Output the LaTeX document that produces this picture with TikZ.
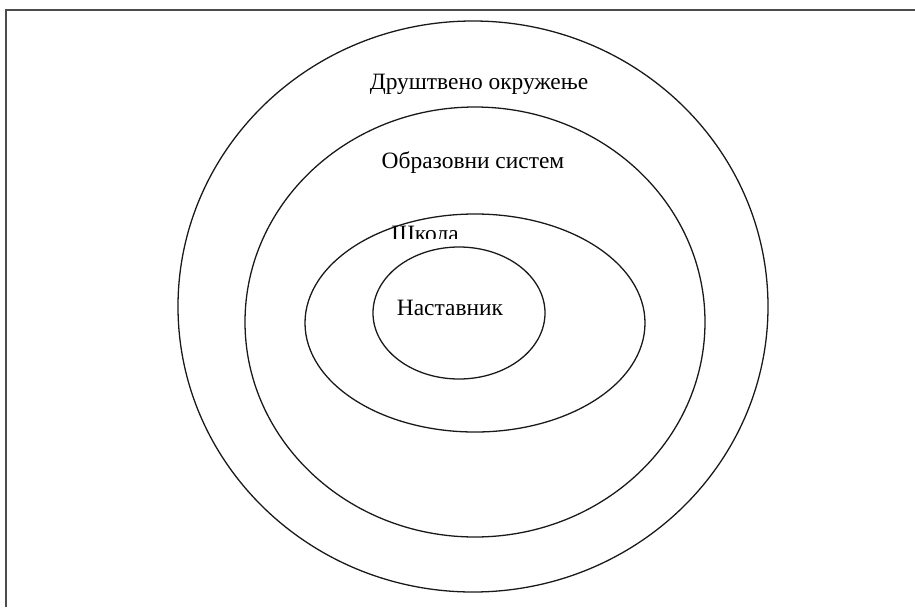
\documentclass[tikz,border=0pt]{standalone}
\usepackage{fontspec}
\setmainfont{Liberation Serif}
\usetikzlibrary{positioning}

\begin{document}
\begin{tikzpicture}[
    x=0.03cm, y=-0.03cm,
    ring/.style={line width=1.1pt, draw=black!90},
    frame/.style={line width=1.2pt, draw=black!70},
    every node/.style={font=\fontsize{20}{24}\selectfont, anchor=base, inner sep=0pt}
]
\useasboundingbox (0,0) rectangle (915,607);

% Frame (left and top edges only)
\draw[frame] (6,607) -- (6,10) -- (915,10);

% Nested rings
\draw[ring] (473,306.5) ellipse (295 and 285.5);
\draw[ring] (475,322) ellipse (230 and 215);
\draw[ring] (475,323) ellipse (170 and 109);

% Labels
\node (society) at (479,89) {Друштвено окружење};
\node (system)  at (473,168) {Образовни систем};
\node (school)  at (425,241) {Школа};

% Innermost ring with its white box, which hides the foot of the school label
\fill[white] (380,239) rectangle (475,250);
\draw[ring, fill=white] (459,313) ellipse (86 and 66);
\node (teacher) at (450,315) {Наставник};
\end{tikzpicture}
\end{document}
